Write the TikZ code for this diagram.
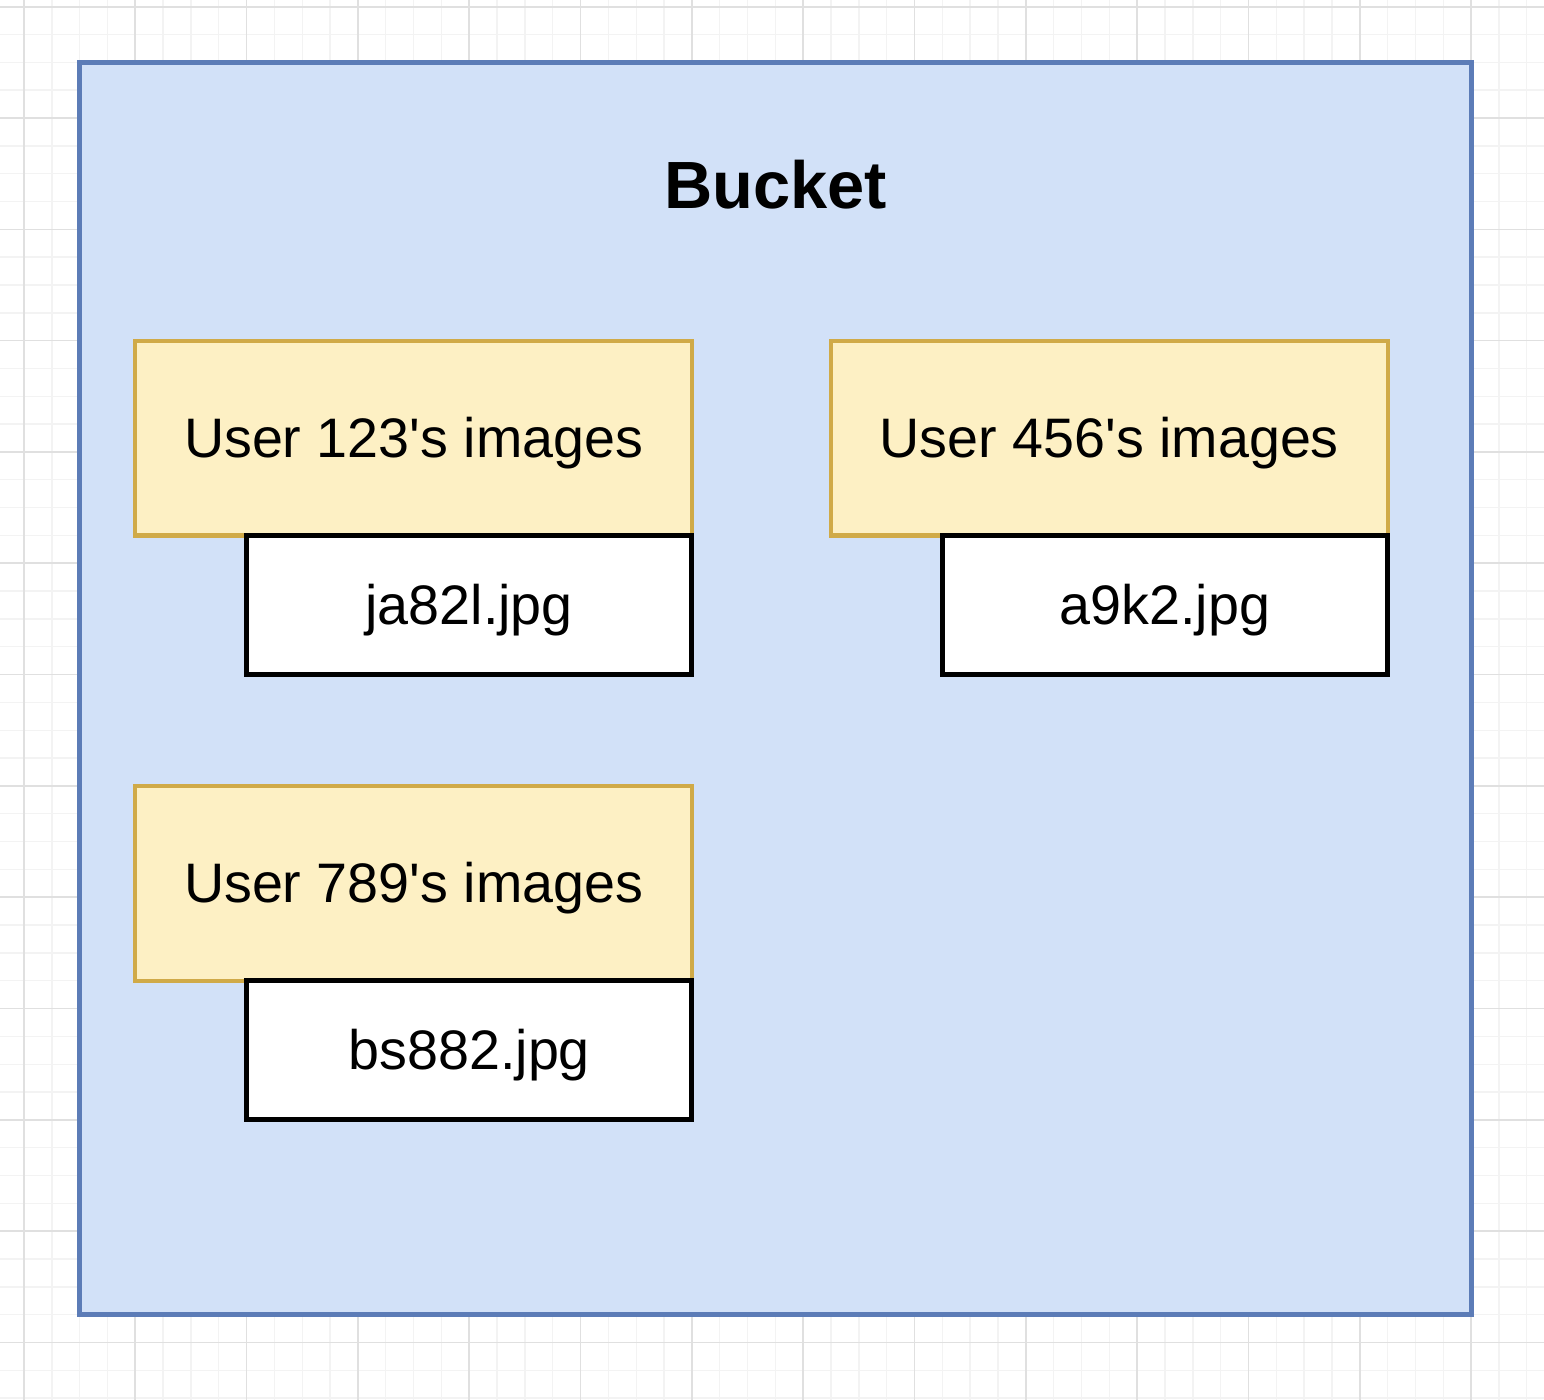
\documentclass[tikz,border=0pt]{standalone}
\usepackage{fontspec}
\setmainfont{Liberation Sans}
\definecolor{bucketfill}{HTML}{D2E1F8}
\definecolor{bucketline}{HTML}{5C7CB7}
\definecolor{userfill}{HTML}{FDF0C4}
\definecolor{userline}{HTML}{D0AA48}
\definecolor{gridlight}{HTML}{F3F3F3}
\definecolor{griddark}{HTML}{E0E0E0}
\tikzset{
    gridminor/.style={draw=gridlight, line width=0.5pt},
    gridmajor/.style={draw=griddark, line width=0.6pt},
    bucketbox/.style={draw=bucketline, fill=bucketfill, line width=1.8pt, minimum width=500pt, minimum height=450pt, inner sep=0pt, outer sep=0pt},
    userbox/.style={draw=userline, fill=userfill, line width=1.5pt, minimum width=200pt, minimum height=70pt, inner sep=0pt, outer sep=0pt, text height=19pt, text depth=5pt, font=\fontsize{20}{24}\selectfont},
    filebox/.style={draw=black, fill=white, line width=1.8pt, minimum width=160pt, minimum height=50pt, inner sep=0pt, outer sep=0pt, text height=19pt, text depth=5pt, font=\fontsize{20}{24}\selectfont},
}
\begin{document}
\begin{tikzpicture}[x=1pt, y=-1pt]
\useasboundingbox (-8.62,-2.41) rectangle (546.2,500.6);
\fill[white] (-8.62,-2.41) rectangle (546.2,500.6);

% grid
\foreach \x in {0,10,...,540}
{
    \draw[gridminor] (\x,-2.41)--(\x,500.6);
}
\foreach \y in {0,10,...,500}
{
    \draw[gridminor] (-8.62,\y)--(546.2,\y);
}
\foreach \x in {0,40,...,520}
{
    \draw[gridmajor] (\x,-2.41)--(\x,500.6);
}
\foreach \y in {0,40,...,480}
{
    \draw[gridmajor] (-8.62,\y)--(546.2,\y);
}

\node[bucketbox] (bucket) at (270,245) {};
\node[font=\fontsize{24}{28}\selectfont\bfseries] (title) at (270,64) {Bucket};

\node[userbox] (user123) at (140,155) {User 123\textquotesingle s images};
\node[filebox] (file123) at (160,215) {ja82l.jpg};

\node[userbox] (user456) at (390,155) {User 456\textquotesingle s images};
\node[filebox] (file456) at (410,215) {a9k2.jpg};

\node[userbox] (user789) at (140,315) {User 789\textquotesingle s images};
\node[filebox] (file789) at (160,375) {bs882.jpg};

\end{tikzpicture}
\end{document}
